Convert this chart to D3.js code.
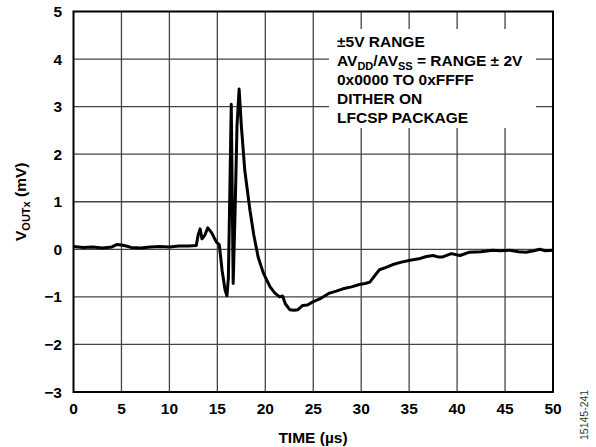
<!DOCTYPE html>
<html>
<head>
<meta charset="utf-8">
<style>
  body { margin: 0; background: #fff; }
  svg { display: block; font-family: Arial, "Liberation Sans", sans-serif; }
</style>
</head>
<body>
<script src="https://d3js.org/d3.v7.min.js"></script>
<svg id="chart" width="596" height="447"></svg>
<script>
// time in µs, output in mV
var timeUs = [0, 1, 2, 3, 4, 4.5, 5, 5.5, 6, 7, 8, 9, 10, 11, 12, 12.8, 13.0, 13.2, 13.4, 13.7, 14.0, 14.4, 14.9, 15.2, 15.5, 15.8, 16.0, 16.15, 16.3, 16.45, 16.65, 16.85, 17.05, 17.27, 17.5, 17.86, 18.4, 18.8, 19.25, 19.8, 20.5, 21.0, 21.5, 21.8, 22.1, 22.55, 23.0, 23.4, 23.9, 24.4, 25.0, 25.8, 26.7, 27.4, 28.1, 29.0, 29.8, 30.4, 30.9, 31.4, 31.9, 32.6, 33.3, 34.2, 35.1, 36.0, 36.8, 37.5, 38.0, 38.5, 39.4, 40.3, 41.3, 42.5, 43.7, 44.5, 45.5, 46.4, 47.2, 48.0, 48.6, 49.2, 50];
var voutMv = [0.06, 0.04, 0.05, 0.03, 0.05, 0.1, 0.09, 0.07, 0.04, 0.03, 0.05, 0.06, 0.05, 0.07, 0.07, 0.08, 0.3, 0.43, 0.22, 0.3, 0.45, 0.35, 0.15, 0.1, -0.45, -0.85, -0.98, -0.6, 1.2, 3.05, -0.72, 0.8, 2.6, 3.37, 2.6, 1.66, 0.82, 0.3, -0.16, -0.5, -0.79, -0.92, -1.0, -0.98, -1.15, -1.27, -1.28, -1.27, -1.18, -1.17, -1.1, -1.03, -0.92, -0.88, -0.83, -0.79, -0.74, -0.72, -0.69, -0.56, -0.43, -0.38, -0.32, -0.27, -0.23, -0.2, -0.15, -0.13, -0.16, -0.16, -0.09, -0.13, -0.06, -0.05, -0.02, -0.03, -0.02, -0.05, -0.06, -0.03, 0.0, -0.03, -0.02];

var xTicks = [0, 5, 10, 15, 20, 25, 30, 35, 40, 45, 50];
var yTicks = [-3, -2, -1, 0, 1, 2, 3, 4, 5];

// each legend line: [text, isSubscript]
var legendLines = [
  [["±5V RANGE", false]],
  [["AV", false], ["DD", true], ["/AV", false], ["SS", true], [" = RANGE ± 2V", false]],
  [["0x0000 TO 0xFFFF", false]],
  [["DITHER ON", false]],
  [["LFCSP PACKAGE", false]]
];

var svg = d3.select("#chart");
var plotL = 73.5, plotR = 553, plotT = 11.5, plotB = 392;

var x = d3.scaleLinear().domain([0, 50]).range([plotL, plotR]);
var y = d3.scaleLinear().domain([-3, 5]).range([plotB, plotT]);

var fmt = function(d) { return d < 0 ? "\u2212" + Math.abs(d) : String(d); };

// grid
svg.append("g").selectAll("line").data(xTicks.slice(1, -1)).enter().append("line")
  .attr("x1", d => x(d)).attr("x2", d => x(d))
  .attr("y1", plotT).attr("y2", plotB)
  .attr("stroke", "#444").attr("stroke-width", 1.3);
svg.append("g").selectAll("line").data(yTicks.slice(1, -1)).enter().append("line")
  .attr("x1", plotL).attr("x2", plotR)
  .attr("y1", d => y(d)).attr("y2", d => y(d))
  .attr("stroke", "#444").attr("stroke-width", 1.3);

// legend box hides the grid behind the text
svg.append("rect")
  .attr("x", 329).attr("y", 29).attr("width", 207).attr("height", 99)
  .attr("fill", "#fff");

var legend = svg.append("text")
  .attr("font-size", 15.5).attr("font-weight", "bold").attr("fill", "#000");
legendLines.forEach(function(parts, i) {
  var row = legend.append("tspan").attr("x", 337).attr("y", 46.5 + i * 19);
  var shifted = false;
  parts.forEach(function(p) {
    var t = row.append("tspan").text(p[0]);
    if (p[1]) { t.attr("font-size", 11).attr("dy", shifted ? 0 : 4); shifted = true; }
    else if (shifted) { t.attr("dy", -4); shifted = false; }
  });
});

// waveform
var trace = d3.line()
  .x((d, i) => x(timeUs[i]))
  .y(d => y(d));
svg.append("path")
  .datum(voutMv)
  .attr("d", trace)
  .attr("fill", "none")
  .attr("stroke", "#000")
  .attr("stroke-width", 3)
  .attr("stroke-linejoin", "round");

// frame
svg.append("rect")
  .attr("x", plotL).attr("y", plotT)
  .attr("width", plotR - plotL).attr("height", plotB - plotT)
  .attr("fill", "none").attr("stroke", "#000").attr("stroke-width", 2);

// tick labels
svg.append("g").selectAll("text").data(xTicks).enter().append("text")
  .attr("x", d => x(d)).attr("y", 414)
  .attr("text-anchor", "middle")
  .attr("font-size", 15.5).attr("font-weight", "bold")
  .text(fmt);
svg.append("g").selectAll("text").data(yTicks).enter().append("text")
  .attr("x", 62).attr("y", d => y(d) + 5.5)
  .attr("text-anchor", "end")
  .attr("font-size", 15.5).attr("font-weight", "bold")
  .text(fmt);

// axis titles
svg.append("text")
  .attr("x", 313).attr("y", 443)
  .attr("text-anchor", "middle")
  .attr("font-size", 15.5).attr("font-weight", "bold")
  .text("TIME (µs)");

var yt = svg.append("text")
  .attr("transform", "translate(26," + ((plotT + plotB) / 2) + ") rotate(-90)")
  .attr("text-anchor", "middle")
  .attr("font-size", 15.5).attr("font-weight", "bold");
yt.append("tspan").text("V");
yt.append("tspan").attr("font-size", 11).attr("dy", 4).text("OUTx");
yt.append("tspan").attr("dy", -4).text(" (mV)");

svg.append("text")
  .attr("transform", "translate(588,440) rotate(-90)")
  .attr("font-size", 10.5).attr("fill", "#333")
  .text("15145-241");
</script>
</body>
</html>
